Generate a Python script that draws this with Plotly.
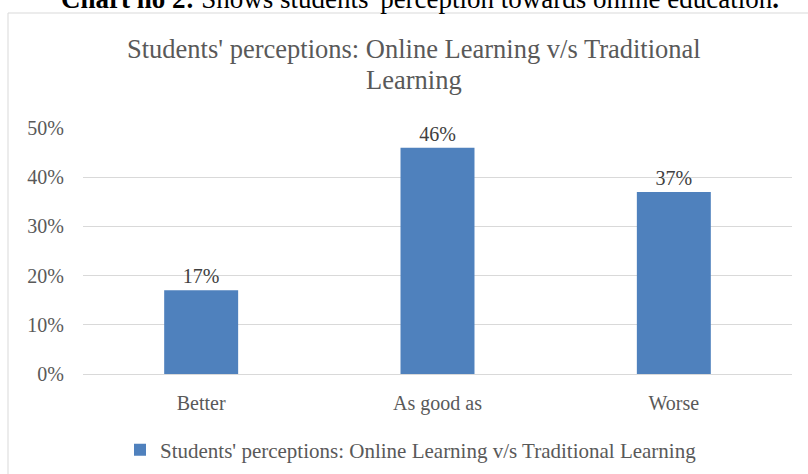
import plotly.graph_objects as go

categories = ["Better", "As good as", "Worse"]
values = [0.17, 0.46, 0.37]
series_name = "Students' perceptions: Online Learning v/s Traditional Learning"
title_line1 = "Students' perceptions: Online Learning v/s Traditional"
title_line2 = "Learning"
caption_bold = "Chart no 2:"
caption_rest = " Shows students' perception towards online education"
tick_vals = [0, 0.1, 0.2, 0.3, 0.4, 0.5]
tick_text = ["0%", "10%", "20%", "30%", "40%", "50%"]

W, H = 808, 474
L, R, T, B = 83, 16, 128, 100
pw, ph = W - L - R, H - T - B

def px_x(x):
    return (x - L) / pw

def px_y(y):
    return (H - B - y) / ph

FONT = "Liberation Serif, Times New Roman, serif"

fig = go.Figure()
fig.add_trace(go.Bar(
    x=categories, y=values, name=series_name,
    marker=dict(color="#4F81BD", line=dict(width=0)),
    text=[f"{round(v*100)}%" for v in values],
    textposition="outside",
    textfont=dict(family=FONT, size=20, color="#404040"),
    cliponaxis=False,
    showlegend=True,
))

fig.update_layout(
    width=W, height=H,
    margin=dict(l=L, r=R, t=T, b=B, autoexpand=False),
    paper_bgcolor="white", plot_bgcolor="white",
    bargap=0.687,
    font=dict(family=FONT, color="#595959"),
    showlegend=True,
    legend=dict(
        orientation="h",
        x=px_x(411), xanchor="center",
        y=px_y(450), yanchor="middle",
        font=dict(family=FONT, size=21, color="#595959"),
        itemwidth=30,
    ),
    xaxis=dict(
        showgrid=False, showline=True, linecolor="#d9d9d9", linewidth=1,
        ticks="", tickfont=dict(family=FONT, size=20, color="#595959"),
        ticklabelstandoff=11,
    ),
    yaxis=dict(
        range=[0, 0.5], tickvals=tick_vals, ticktext=tick_text,
        showgrid=True, gridcolor="#d9d9d9", gridwidth=1,
        zeroline=False, showline=False, ticks="",
        tickfont=dict(family=FONT, size=20, color="#595959"),
        ticklabelstandoff=18,
    ),
    shapes=[dict(
        type="rect", xref="paper", yref="paper",
        x0=px_x(8), x1=px_x(812), y0=px_y(485), y1=px_y(13),
        line=dict(color="#d9d9d9", width=1), fillcolor="rgba(0,0,0,0)",
        layer="below",
    )],
    annotations=[
        dict(
            text=f"<b>{caption_bold}</b>{caption_rest}<b>.</b>",
            xref="paper", yref="paper",
            x=px_x(420), y=px_y(-1.5), xanchor="center", yanchor="middle",
            showarrow=False,
            font=dict(family=FONT, size=27, color="black"),
        ),
        dict(
            text=title_line1, xref="paper", yref="paper",
            x=px_x(414), y=px_y(49), xanchor="center", yanchor="middle",
            showarrow=False,
            font=dict(family=FONT, size=26.5, color="#595959"),
        ),
        dict(
            text=title_line2, xref="paper", yref="paper",
            x=px_x(414), y=px_y(80), xanchor="center", yanchor="middle",
            showarrow=False,
            font=dict(family=FONT, size=26.5, color="#595959"),
        ),
    ],
)

fig.write_html(
    "out.html",
    config={"displayModeBar": False},
    post_script="document.body.style.margin='0px';",
)
